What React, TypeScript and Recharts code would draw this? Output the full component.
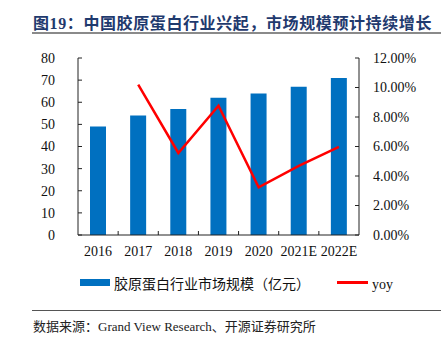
import { Bar, ComposedChart, Line, XAxis, YAxis } from "recharts";

const years = ["2016", "2017", "2018", "2019", "2020", "2021E", "2022E"];
const marketSize = [49, 54, 57, 62, 64, 67, 71];
const yoyGrowth = [null, 10.2, 5.56, 8.77, 3.23, 4.69, 5.97];
const leftTicks = [0, 10, 20, 30, 40, 50, 60, 70, 80];
const rightTicks = [0, 2, 4, 6, 8, 10, 12];

const rows = years.map((year, i) => ({ year, size: marketSize[i], yoy: yoyGrowth[i] }));

const serif = "'Liberation Serif', 'Times New Roman', 'Noto Sans CJK SC', serif";
const cjk = "'Liberation Serif', 'Noto Sans CJK SC', serif";
const axisColor = "#222";
const PLOT_LEFT = 78;
const PLOT_RIGHT = 359;
const HALF_BAND = (PLOT_RIGHT - PLOT_LEFT) / years.length / 2;
const X_MARGIN = 11;

function YearTick(props: any) {
  const { x, y, payload, index } = props;
  const axisY = y - X_MARGIN;
  return (
    <g>
      {index > 0 && (
        <line x1={x - HALF_BAND} x2={x - HALF_BAND} y1={axisY} y2={axisY - 4} stroke={axisColor} />
      )}
      <text x={x} y={y} dy="0.71em" textAnchor="middle" fontSize={14} fontFamily={serif} fill="#111">
        {payload.value}
      </text>
    </g>
  );
}

export default function App() {
  return (
    <div style={{ position: "absolute", left: 0, top: 0, width: 441, height: 338, background: "#fff" }}>
      <div
        style={{
          position: "absolute",
          left: 33,
          top: 10,
          fontSize: 16,
          fontWeight: "bold",
          color: "#1F3A6E",
          fontFamily: cjk,
          whiteSpace: "nowrap",
          letterSpacing: 0.6,
        }}
      >
        图19：中国胶原蛋白行业兴起，市场规模预计持续增长
      </div>
      <div style={{ position: "absolute", left: 32, top: 32, width: 409, height: 2, background: "#8a8a8a" }} />

      <div style={{ position: "absolute", left: 0, top: 0 }}>
        <ComposedChart width={441} height={338} data={rows} margin={{ top: 58, right: 0, bottom: 73, left: 0 }}>
          <XAxis
            dataKey="year"
            height={30}
            stroke={axisColor}
            tickLine={false}
            tickSize={0}
            tickMargin={X_MARGIN}
            interval={0}
            tick={<YearTick />}
          />
          <YAxis
            yAxisId="left"
            width={78}
            domain={[0, 80]}
            ticks={leftTicks}
            interval={0}
            stroke={axisColor}
            tickSize={-4}
            tickMargin={27}
            tick={{ fill: "#111", fontSize: 14, fontFamily: serif }}
          />
          <YAxis
            yAxisId="right"
            orientation="right"
            width={82}
            domain={[0, 12]}
            ticks={rightTicks}
            interval={0}
            stroke={axisColor}
            tickSize={-4}
            tickMargin={18}
            tickFormatter={(v: number) => v.toFixed(2) + "%"}
            tick={{ fill: "#111", fontSize: 14, fontFamily: serif, textAnchor: "start" }}
          />
          <Bar yAxisId="left" dataKey="size" fill="#0070C0" barSize={16} isAnimationActive={false} />
          <Line
            yAxisId="right"
            dataKey="yoy"
            stroke="#FF0000"
            strokeWidth={2.5}
            dot={false}
            type="linear"
            isAnimationActive={false}
          />
        </ComposedChart>
      </div>

      <div style={{ position: "absolute", left: 80, top: 279, width: 30, height: 7, background: "#0070C0" }} />
      <div
        style={{
          position: "absolute",
          left: 114,
          top: 273,
          fontSize: 14,
          fontFamily: cjk,
          color: "#111",
          whiteSpace: "nowrap",
        }}
      >
        胶原蛋白行业市场规模（亿元）
      </div>
      <div style={{ position: "absolute", left: 337, top: 281, width: 31, height: 2.5, background: "#FF0000" }} />
      <div
        style={{ position: "absolute", left: 372, top: 277, fontSize: 14, fontFamily: serif, color: "#111" }}
      >
        yoy
      </div>

      <div style={{ position: "absolute", left: 32, top: 310, width: 409, height: 1, background: "#555" }} />
      <div
        style={{
          position: "absolute",
          left: 33,
          top: 316,
          fontSize: 13,
          fontFamily: cjk,
          color: "#222",
          whiteSpace: "nowrap",
        }}
      >
        数据来源：Grand View Research、开源证券研究所
      </div>
    </div>
  );
}
